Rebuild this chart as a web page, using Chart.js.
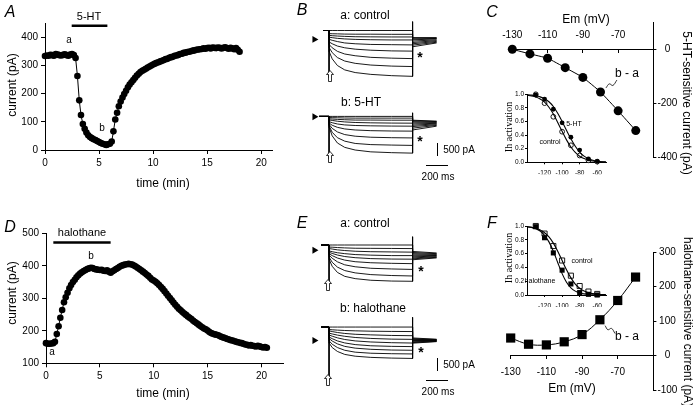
<!DOCTYPE html>
<html>
<head>
<meta charset="utf-8">
<script src="https://cdn.jsdelivr.net/npm/chart.js@4.4.1/dist/chart.umd.min.js"></script>
<style>
body { margin: 0; background: #fff; }
#wrap { position: relative; width: 699px; height: 405px; overflow: hidden; font-family: "Liberation Sans", Arial, sans-serif; color: #000; }
#wrap canvas { position: absolute; }
.t { position: absolute; white-space: nowrap; line-height: 1; transform: translate(-50%, -50%); }
.bar { position: absolute; background: #000; }
.arw { position: absolute; }
</style>
</head>
<body>
<div id="wrap"></div>
<script>
// === panel A: 5-HT time course (one sweep every 10 s) ===
const aTime = [0,0.17,0.33,0.5,0.67,0.83,1,1.17,1.33,1.5,1.67,1.83,2,2.17,2.33,2.5,2.67,2.83,3,3.17,3.33,3.5,3.67,3.83,4,4.17,4.33,4.5,4.67,4.83,5,5.17,5.33,5.5,5.67,5.83,6,6.17,6.33,6.5,6.67,6.83,7,7.17,7.33,7.5,7.67,7.83,8,8.17,8.33,8.5,8.67,8.83,9,9.17,9.33,9.5,9.67,9.83,10,10.17,10.33,10.5,10.67,10.83,11,11.17,11.33,11.5,11.67,11.83,12,12.17,12.33,12.5,12.67,12.83,13,13.17,13.33,13.5,13.67,13.83,14,14.17,14.33,14.5,14.67,14.83,15,15.17,15.33,15.5,15.67,15.83,16,16.17,16.33,16.5,16.67,16.83,17,17.17,17.33,17.5,17.67,17.83,18];
const aCurrent = [333,335,334,337,336,334,340,338,336,335,337,339,336,334,338,340,336,326,262,176,124,92,75,62,52,46,42,38,35,32,28,25,22,20,18,20,22,30,66,108,132,155,172,186,198,210,222,232,240,248,256,264,270,276,281,284,288,292,296,299,303,306,309,311,314,316,319,322,323,327,329,330,334,335,337,340,341,344,345,347,348,350,352,353,355,356,357,358,360,359,361,362,360,363,362,361,363,362,360,362,364,361,359,362,360,357,361,355,348];
const aDrugMin = [2.47, 5.77];
const aDrugLevel = 440;
const aXTicks = [0, 5, 10, 15, 20];
const aYTicks = [0, 100, 200, 300, 400];

// === panel D: halothane time course ===
const dTime = [0,0.17,0.33,0.5,0.67,0.83,1,1.17,1.33,1.5,1.67,1.83,2,2.17,2.33,2.5,2.67,2.83,3,3.17,3.33,3.5,3.67,3.83,4,4.17,4.33,4.5,4.67,4.83,5,5.17,5.33,5.5,5.67,5.83,6,6.17,6.33,6.5,6.67,6.83,7,7.17,7.33,7.5,7.67,7.83,8,8.17,8.33,8.5,8.67,8.83,9,9.17,9.33,9.5,9.67,9.83,10,10.17,10.33,10.5,10.67,10.83,11,11.17,11.33,11.5,11.67,11.83,12,12.17,12.33,12.5,12.67,12.83,13,13.17,13.33,13.5,13.67,13.83,14,14.17,14.33,14.5,14.67,14.83,15,15.17,15.33,15.5,15.67,15.83,16,16.17,16.33,16.5,16.67,16.83,17,17.17,17.33,17.5,17.67,17.83,18,18.17,18.33,18.5,18.67,18.83,19,19.17,19.33,19.5,19.67,19.83,20,20.17,20.33,20.5];
const dCurrent = [162,160,160,161,162,166,190,214,240,264,288,303,317,331,341,350,357,365,371,376,380,384,387,390,392,394,393,390,389,388,387,388,385,384,386,382,379,383,386,390,393,397,400,402,404,405,406,405,404,401,398,394,390,386,382,378,373,369,363,358,355,351,346,341,335,329,322,315,308,301,294,287,280,274,268,263,258,253,249,244,240,236,231,227,223,219,215,211,207,205,201,196,193,191,189,188,186,183,181,179,177,175,173,171,170,168,166,165,163,162,160,158,157,155,156,154,153,152,154,152,150,149,150,148];
const dDrugMin = [0.68, 6.0];
const dDrugLevel = 472;
const dXTicks = [0, 5, 10, 15, 20];
const dYTicks = [100, 200, 300, 400, 500];

// === panels B / E: current traces (ms, pA) ===
const traceTimes = [2, 30, 80, 150, 250, 400, 600, 800];
const tailTimes = [800, 1030];

const bCtrlTraces = [
  [0, 0, 0, 0, 0, 0, 0, 0],
  [-135, -140, -145, -155, -160, -160, -165, -165],
  [-210, -225, -240, -255, -270, -275, -280, -280],
  [-290, -310, -340, -365, -385, -400, -410, -410],
  [-385, -425, -480, -540, -575, -605, -615, -625],
  [-500, -575, -675, -750, -810, -855, -885, -895],
  [-615, -750, -905, -1020, -1095, -1165, -1200, -1220],
  [-750, -960, -1175, -1325, -1425, -1500, -1545, -1565],
  [-925, -1230, -1520, -1710, -1825, -1905, -1960, -1990]
];
const bCtrlTailStart = [-310, -325, -365, -405, -460, -520, -575, -635, -705];
const bCtrlTailEnd = [-310, -325, -345, -365, -405, -440, -475, -510, -540];

const b5htTraces = [
  [0, 0, 0, 0, 0, 0, 0, 0],
  [-50, -55, -60, -70, -75, -75, -75, -75],
  [-105, -115, -130, -145, -160, -160, -165, -165],
  [-155, -175, -210, -240, -265, -280, -290, -295],
  [-230, -275, -330, -370, -395, -410, -420, -425],
  [-295, -385, -475, -545, -590, -620, -635, -640],
  [-360, -520, -675, -790, -860, -905, -925, -935],
  [-425, -690, -925, -1075, -1175, -1225, -1245, -1260],
  [-490, -845, -1155, -1345, -1460, -1540, -1575, -1595]
];
const b5htTailStart = [-165, -190, -230, -280, -330, -385, -440, -510, -590];
const b5htTailEnd = [-205, -225, -245, -270, -300, -325, -360, -390, -425];

const eCtrlTraces = [
  [0, 0, 0, 0, 0, 0, 0, 0],
  [-90, -95, -110, -125, -140, -145, -150, -155],
  [-155, -175, -210, -240, -270, -290, -300, -310],
  [-260, -290, -335, -375, -415, -440, -460, -460],
  [-320, -365, -435, -500, -550, -590, -610, -615],
  [-385, -460, -565, -655, -725, -770, -795, -810],
  [-450, -575, -730, -860, -945, -1010, -1040, -1060],
  [-540, -750, -960, -1110, -1210, -1285, -1325, -1345],
  [-640, -925, -1190, -1360, -1460, -1530, -1565, -1575]
];
const eCtrlTailStart = [-280, -325, -375, -425, -470, -515, -560, -600, -640];
const eCtrlTailEnd = [-345, -375, -400, -425, -455, -480, -510, -535, -560];

const eHaloTraces = [
  [0, 0, 0, 0, 0, 0, 0, 0],
  [-105, -115, -130, -145, -160, -175, -185, -190],
  [-165, -190, -230, -270, -305, -330, -355, -365],
  [-260, -290, -340, -390, -440, -480, -510, -520],
  [-335, -385, -455, -525, -585, -630, -660, -675],
  [-425, -490, -585, -670, -740, -790, -815, -825],
  [-490, -590, -710, -815, -890, -940, -970, -980],
  [-590, -725, -865, -980, -1060, -1105, -1125, -1135],
  [-680, -865, -1030, -1155, -1230, -1280, -1310, -1325]
];
const eHaloTailStart = [-460, -490, -515, -540, -570, -595, -625, -655, -680];
const eHaloTailEnd = [-515, -525, -540, -555, -565, -575, -590, -605, -615];

// step onset / offset transients and holding-level arrowheads
const bCtrlCap = { on: [0, -2050], off: [385, -1990], pre: -58, arrow: -385 };
const b5htCap = { on: [0, -1845], off: [155, -1595], pre: -95, arrow: -15 };
const eCtrlCap = { on: [0, -1690], off: [360, -1575], pre: -77, arrow: -230 };
const eHaloCap = { on: [0, -2220], off: [410, -1325], pre: -75, arrow: -565 };
const arrowTime = -140;

// === panels C / F: difference currents ===
const ivVolt = [-130, -120, -110, -100, -90, -80, -70, -60];
const cCurrent = [0, -17, -33, -68, -104, -158, -228, -301];
const fCurrent = [51, 33, 31, 40, 61, 104, 160, 228];
const cXTicks = [-130, -110, -90, -70];
const cYTicks = [-400, -200, 0];
const fXTicks = [-130, -110, -90, -70];
const fYTicks = [-100, 0, 100, 200, 300];
const cLeaderX = [-76.9, -75, -73, -70.7];
const cLeaderY = [-143, -128, -134, -114];
const fLeaderX = [-77.1, -75.5, -73.5, -71.5];
const fLeaderY = [87, 75, 79, 64];

// insets: Ih activation
const actVolt = [-130, -120, -110, -100, -90, -80, -70, -60];
const cActCtrl = [1.0, 0.87, 0.67, 0.45, 0.25, 0.10, 0.03, 0.01];
const cAct5ht = [0.99, 0.93, 0.78, 0.58, 0.37, 0.18, 0.05, 0.015];
const fActCtrl = [1.0, 0.89, 0.71, 0.50, 0.28, 0.13, 0.05, 0.015];
const fActHalo = [0.99, 0.83, 0.61, 0.36, 0.16, 0.035, 0.01, 0.0];
const fitVolt = [-140, -135, -130, -125, -120, -115, -110, -105, -100, -95, -90, -85, -80, -75, -70, -65, -60, -55, -50];
const cFitCtrl = [0.985, 0.975, 0.96, 0.93, 0.885, 0.81, 0.71, 0.585, 0.455, 0.33, 0.225, 0.145, 0.09, 0.055, 0.032, 0.018, 0.01, 0.006, 0.003];
const cFit5ht = [0.993, 0.988, 0.978, 0.962, 0.935, 0.89, 0.82, 0.72, 0.6, 0.47, 0.345, 0.235, 0.15, 0.09, 0.052, 0.029, 0.016, 0.009, 0.005];
const fFitCtrl = [0.988, 0.98, 0.966, 0.942, 0.902, 0.841, 0.752, 0.635, 0.5, 0.365, 0.248, 0.159, 0.098, 0.058, 0.034, 0.02, 0.012, 0.007, 0.004];
const fFitHalo = [0.99, 0.98, 0.962, 0.928, 0.865, 0.77, 0.635, 0.47, 0.31, 0.185, 0.104, 0.056, 0.03, 0.016, 0.008, 0.004, 0.002, 0.001, 0.001];
const insetXTicks = [-120, -100, -80, -60];
const insetYTicks = [0, 0.2, 0.4, 0.6, 0.8, 1.0];

const wrap = document.getElementById('wrap');
const tickFont = { family: 'Liberation Sans', size: 10 };
const insetFont = { family: 'Liberation Sans', size: 6.5 };

function makeCanvas(x, y, w, h) {
    const c = document.createElement('canvas');
    c.width = w; c.height = h;
    c.style.left = x + 'px'; c.style.top = y + 'px';
    c.style.width = w + 'px'; c.style.height = h + 'px';
    wrap.appendChild(c);
    return c;
}

function xy(xs, ys) {
    return xs.map((x, i) => ({ x: x, y: ys[i] }));
}

function fixedTicks(values) {
    return s => { s.ticks = values.map(v => ({ value: v })); };
}

function baseOptions(padding, scales) {
    return {
        animation: false, responsive: false, devicePixelRatio: 1, events: [],
        layout: { padding: padding },
        plugins: { legend: { display: false }, tooltip: { enabled: false } },
        scales: scales
    };
}

function axis(min, max, ticks, o) {
    return {
        type: 'linear', min: min, max: max, position: o.position,
        afterBuildTicks: fixedTicks(ticks),
        afterFit: s => { if (o.size !== undefined) { if (s.isHorizontal()) s.height = o.size; else s.width = o.size; } },
        grid: { drawOnChartArea: false, tickLength: o.tickLength || 4, color: '#000', lineWidth: 1 },
        border: { color: '#000', width: 1 },
        ticks: {
            color: '#000', font: o.font || tickFont, padding: o.padding, maxRotation: 0, autoSkip: false,
            crossAlign: o.crossAlign || 'near',
            callback: o.callback || (v => v)
        }
    };
}

function lineSet(points, extra) {
    return Object.assign({
        data: points, showLine: true, borderColor: '#000', borderWidth: 1,
        pointRadius: 0, pointBorderWidth: 0, pointBackgroundColor: '#000', clip: false
    }, extra || {});
}

// === A ===
new Chart(makeCanvas(0, 0, 290, 200), {
    type: 'scatter',
    data: { datasets: [
        lineSet(xy(aTime, aCurrent), { pointRadius: 3.3 }),
        lineSet(xy(aDrugMin, [aDrugLevel, aDrugLevel]), { borderWidth: 2.5 })
    ] },
    options: baseOptions({ left: 0, top: 23, right: 18, bottom: 20 }, {
        x: axis(0, 21, aXTicks, { position: 'bottom', size: 30, padding: 3 }),
        y: axis(0, 450, aYTicks, { position: 'left', size: 45, padding: 3 })
    })
});

// === D ===
new Chart(makeCanvas(0, 200, 290, 205), {
    type: 'scatter',
    data: { datasets: [
        lineSet(xy(dTime, dCurrent), { pointRadius: 3.3 }),
        lineSet(xy(dDrugMin, [dDrugLevel, dDrugLevel]), { borderWidth: 2.5 })
    ] },
    options: baseOptions({ left: 0, top: 33.3, right: 7, bottom: 11.7 }, {
        x: axis(0, 22, dXTicks, { position: 'bottom', size: 30, padding: 3 }),
        y: axis(100, 500, dYTicks, { position: 'left', size: 46, padding: 3 })
    })
});

// === trace families ===
function traceChart(x, y, h, yMax, yMin, traces, tailStart, tailEnd, cap) {
    const sets = traces.map((tr, i) => {
        const pts = [{ x: cap.pre, y: 0 }, { x: 0, y: 0 }];
        traceTimes.forEach((t, k) => pts.push({ x: t, y: tr[k] }));
        pts.push({ x: tailTimes[0], y: tailStart[i] }, { x: tailTimes[1], y: tailEnd[i] });
        return lineSet(pts, { borderWidth: 0.9 });
    });
    sets.push(lineSet(xy([0, 0], cap.on), { borderWidth: 1 }));
    sets.push(lineSet(xy([tailTimes[0], tailTimes[0]], cap.off), { borderWidth: 1 }));
    sets.push({
        data: [{ x: arrowTime, y: cap.arrow }], pointStyle: 'triangle', rotation: 90, pointRadius: 4,
        pointBackgroundColor: '#000', pointBorderColor: '#000', pointBorderWidth: 0, clip: false
    });
    new Chart(makeCanvas(x, y, 150, h), {
        type: 'scatter',
        data: { datasets: sets },
        options: baseOptions(0, {
            x: { type: 'linear', display: false, min: -240, max: 1120 },
            y: { type: 'linear', display: false, min: yMin, max: yMax }
        })
    });
}

traceChart(300, 15, 70, 500, -2192, bCtrlTraces, bCtrlTailStart, bCtrlTailEnd, bCtrlCap);
traceChart(300, 100, 70, 538, -2154, b5htTraces, b5htTailStart, b5htTailEnd, b5htCap);
traceChart(300, 228, 70, 565, -2127, eCtrlTraces, eCtrlTailStart, eCtrlTailEnd, eCtrlCap);
traceChart(300, 300, 90, 973, -2488, eHaloTraces, eHaloTailStart, eHaloTailEnd, eHaloCap);

// === C / F difference currents ===
function ivChart(x, y, h, padding, yMin, yMax, values, marker, radius, tension, xTicks, yTicks, labelPad, leaderX, leaderY) {
    new Chart(makeCanvas(x, y, 259, h), {
        type: 'scatter',
        data: { datasets: [
            lineSet(xy(ivVolt, values), { pointRadius: radius, pointStyle: marker, tension: tension }),
            lineSet(xy(leaderX, leaderY), { borderWidth: 0.8, tension: 0.4 })
        ] },
        options: baseOptions(padding, {
            x: axis(-130, -50, xTicks, { position: { y: 0 }, padding: labelPad, tickLength: 3 }),
            y: axis(yMin, yMax, yTicks, { position: 'right', size: 45.6, padding: 1, tickLength: 3, crossAlign: 'center' })
        })
    });
}

ivChart(440, 0, 200, { left: 72.3, top: 22.3, right: 0, bottom: 42.7 }, -400, 100, cCurrent, 'circle', 4.5, 0.1, cXTicks, cYTicks, -23, cLeaderX, cLeaderY);
ivChart(440, 200, 205, { left: 70.7, top: 52.3, right: 0, bottom: 15 }, -100, 300, fCurrent, 'rect', 6.5, 0.4, fXTicks, fYTicks, 8, fLeaderX, fLeaderY);

// === insets ===
function insetChart(y, top, bottom, labelPad, marker, radius, ctrl, drug, fitCtrl, fitDrug) {
    new Chart(makeCanvas(495, y, 120, 95), {
        type: 'scatter',
        data: { datasets: [
            lineSet(xy(fitVolt, fitCtrl), { borderWidth: 1.1, tension: 0.3 }),
            lineSet(xy(fitVolt, fitDrug), { borderWidth: 1.1, tension: 0.3 }),
            lineSet(xy(actVolt, drug), { showLine: false, pointStyle: marker, pointRadius: radius }),
            lineSet(xy(actVolt, ctrl), { showLine: false, pointStyle: marker, pointRadius: radius,
                pointBackgroundColor: '#fff', pointBorderColor: '#000', pointBorderWidth: 0.9 })
        ] },
        options: baseOptions({ left: 12, top: top, right: 9, bottom: bottom }, {
            x: axis(-140, -50, insetXTicks, { position: 'bottom', size: 12, padding: labelPad, tickLength: 2, font: insetFont }),
            y: axis(0, 1, insetYTicks, { position: 'left', size: 20, padding: 1, tickLength: 2, font: insetFont, callback: v => v.toFixed(1) })
        })
    });
}

insetChart(85, 9.3, 5.7, 4.8, 'circle', 2.4, cActCtrl, cAct5ht, cFitCtrl, cFit5ht);
insetChart(218, 8, 6, 5, 'rect', 3.6, fActCtrl, fActHalo, fFitCtrl, fFitHalo);

// === text and scale bars ===
function text(str, x, y, size, css) {
    const el = document.createElement('div');
    el.className = 't';
    el.textContent = str;
    el.style.left = x + 'px';
    el.style.top = y + 'px';
    el.style.fontSize = size + 'px';
    if (css) Object.assign(el.style, css);
    wrap.appendChild(el);
}

function bar(x, y, w, h) {
    const el = document.createElement('div');
    el.className = 'bar';
    el.style.left = x + 'px'; el.style.top = y + 'px';
    el.style.width = w + 'px'; el.style.height = h + 'px';
    wrap.appendChild(el);
}

// hollow up-arrow marking the step onset
function upArrow(x, y) {
    const ns = 'http://www.w3.org/2000/svg';
    const svg = document.createElementNS(ns, 'svg');
    svg.setAttribute('class', 'arw');
    svg.setAttribute('width', '8');
    svg.setAttribute('height', '12');
    svg.style.left = (x - 4) + 'px';
    svg.style.top = (y - 6) + 'px';
    const p = document.createElementNS(ns, 'polygon');
    p.setAttribute('points', '4,0.5 7.5,4.5 5.5,4.5 5.5,11.5 2.5,11.5 2.5,4.5 0.5,4.5');
    p.setAttribute('fill', '#fff');
    p.setAttribute('stroke', '#000');
    p.setAttribute('stroke-width', '0.8');
    svg.appendChild(p);
    wrap.appendChild(svg);
}

const italic = { fontStyle: 'italic' };
const rotL = { transform: 'translate(-50%, -50%) rotate(-90deg)' };
const rotR = { transform: 'translate(-50%, -50%) rotate(90deg)' };
const serifRot = { transform: 'translate(-50%, -50%) rotate(-90deg)', fontFamily: '"Liberation Serif", serif' };

text('A', 10, 12, 16, italic);
text('5-HT', 89, 16, 11);
text('a', 69, 40, 10);
text('b', 102, 128, 10);
text('current (pA)', 12, 85, 12, rotL);
text('time (min)', 163, 183, 12);

text('D', 10, 227, 16, italic);
text('halothane', 82, 232, 11);
text('b', 91, 256, 10);
text('a', 52, 352, 10);
text('current (pA)', 12, 293, 12, rotL);
text('time (min)', 163, 393, 12);

text('B', 302, 10, 16, italic);
text('a: control', 365, 15, 12);
text('b: 5-HT', 361, 102, 12);
text('*', 420, 57, 14, { fontWeight: 'bold' });
text('*', 420, 141, 14, { fontWeight: 'bold' });
upArrow(330, 76);
upArrow(330, 157);
text('500 pA', 459, 150, 10);
text('200 ms', 438, 177, 10);
bar(436.5, 143, 1.2, 13);
bar(426, 164.5, 22, 1.2);

text('E', 302, 223, 16, italic);
text('a: control', 365, 223, 12);
text('b: halothane', 373, 308, 12);
text('*', 421, 271, 14, { fontWeight: 'bold' });
text('*', 421, 352, 14, { fontWeight: 'bold' });
upArrow(328, 285);
upArrow(328, 380);
text('500 pA', 459, 365, 10);
text('200 ms', 438, 392, 10);
bar(436.5, 358, 1.2, 13);
bar(426, 379.5, 22, 1.2);

text('C', 492, 12, 16, italic);
text('Em (mV)', 586, 19, 12);
text('5-HT-sensitive current (pA)', 687, 103, 12, rotR);
text('b - a', 627, 73, 12);
text('Ih activation', 509, 127, 10, serifRot);
text('5-HT', 574, 123, 7);
text('control', 550, 141, 7);

text('F', 492, 223, 16, italic);
text('Em (mV)', 572, 388, 12);
text('halothane-sensitive current (pA)', 688, 322, 12, rotR);
text('b - a', 627, 336, 12);
text('Ih activation', 509, 258, 10, serifRot);
text('control', 582, 260, 7);
text('halothane', 540, 280, 7);
</script>
</body>
</html>
